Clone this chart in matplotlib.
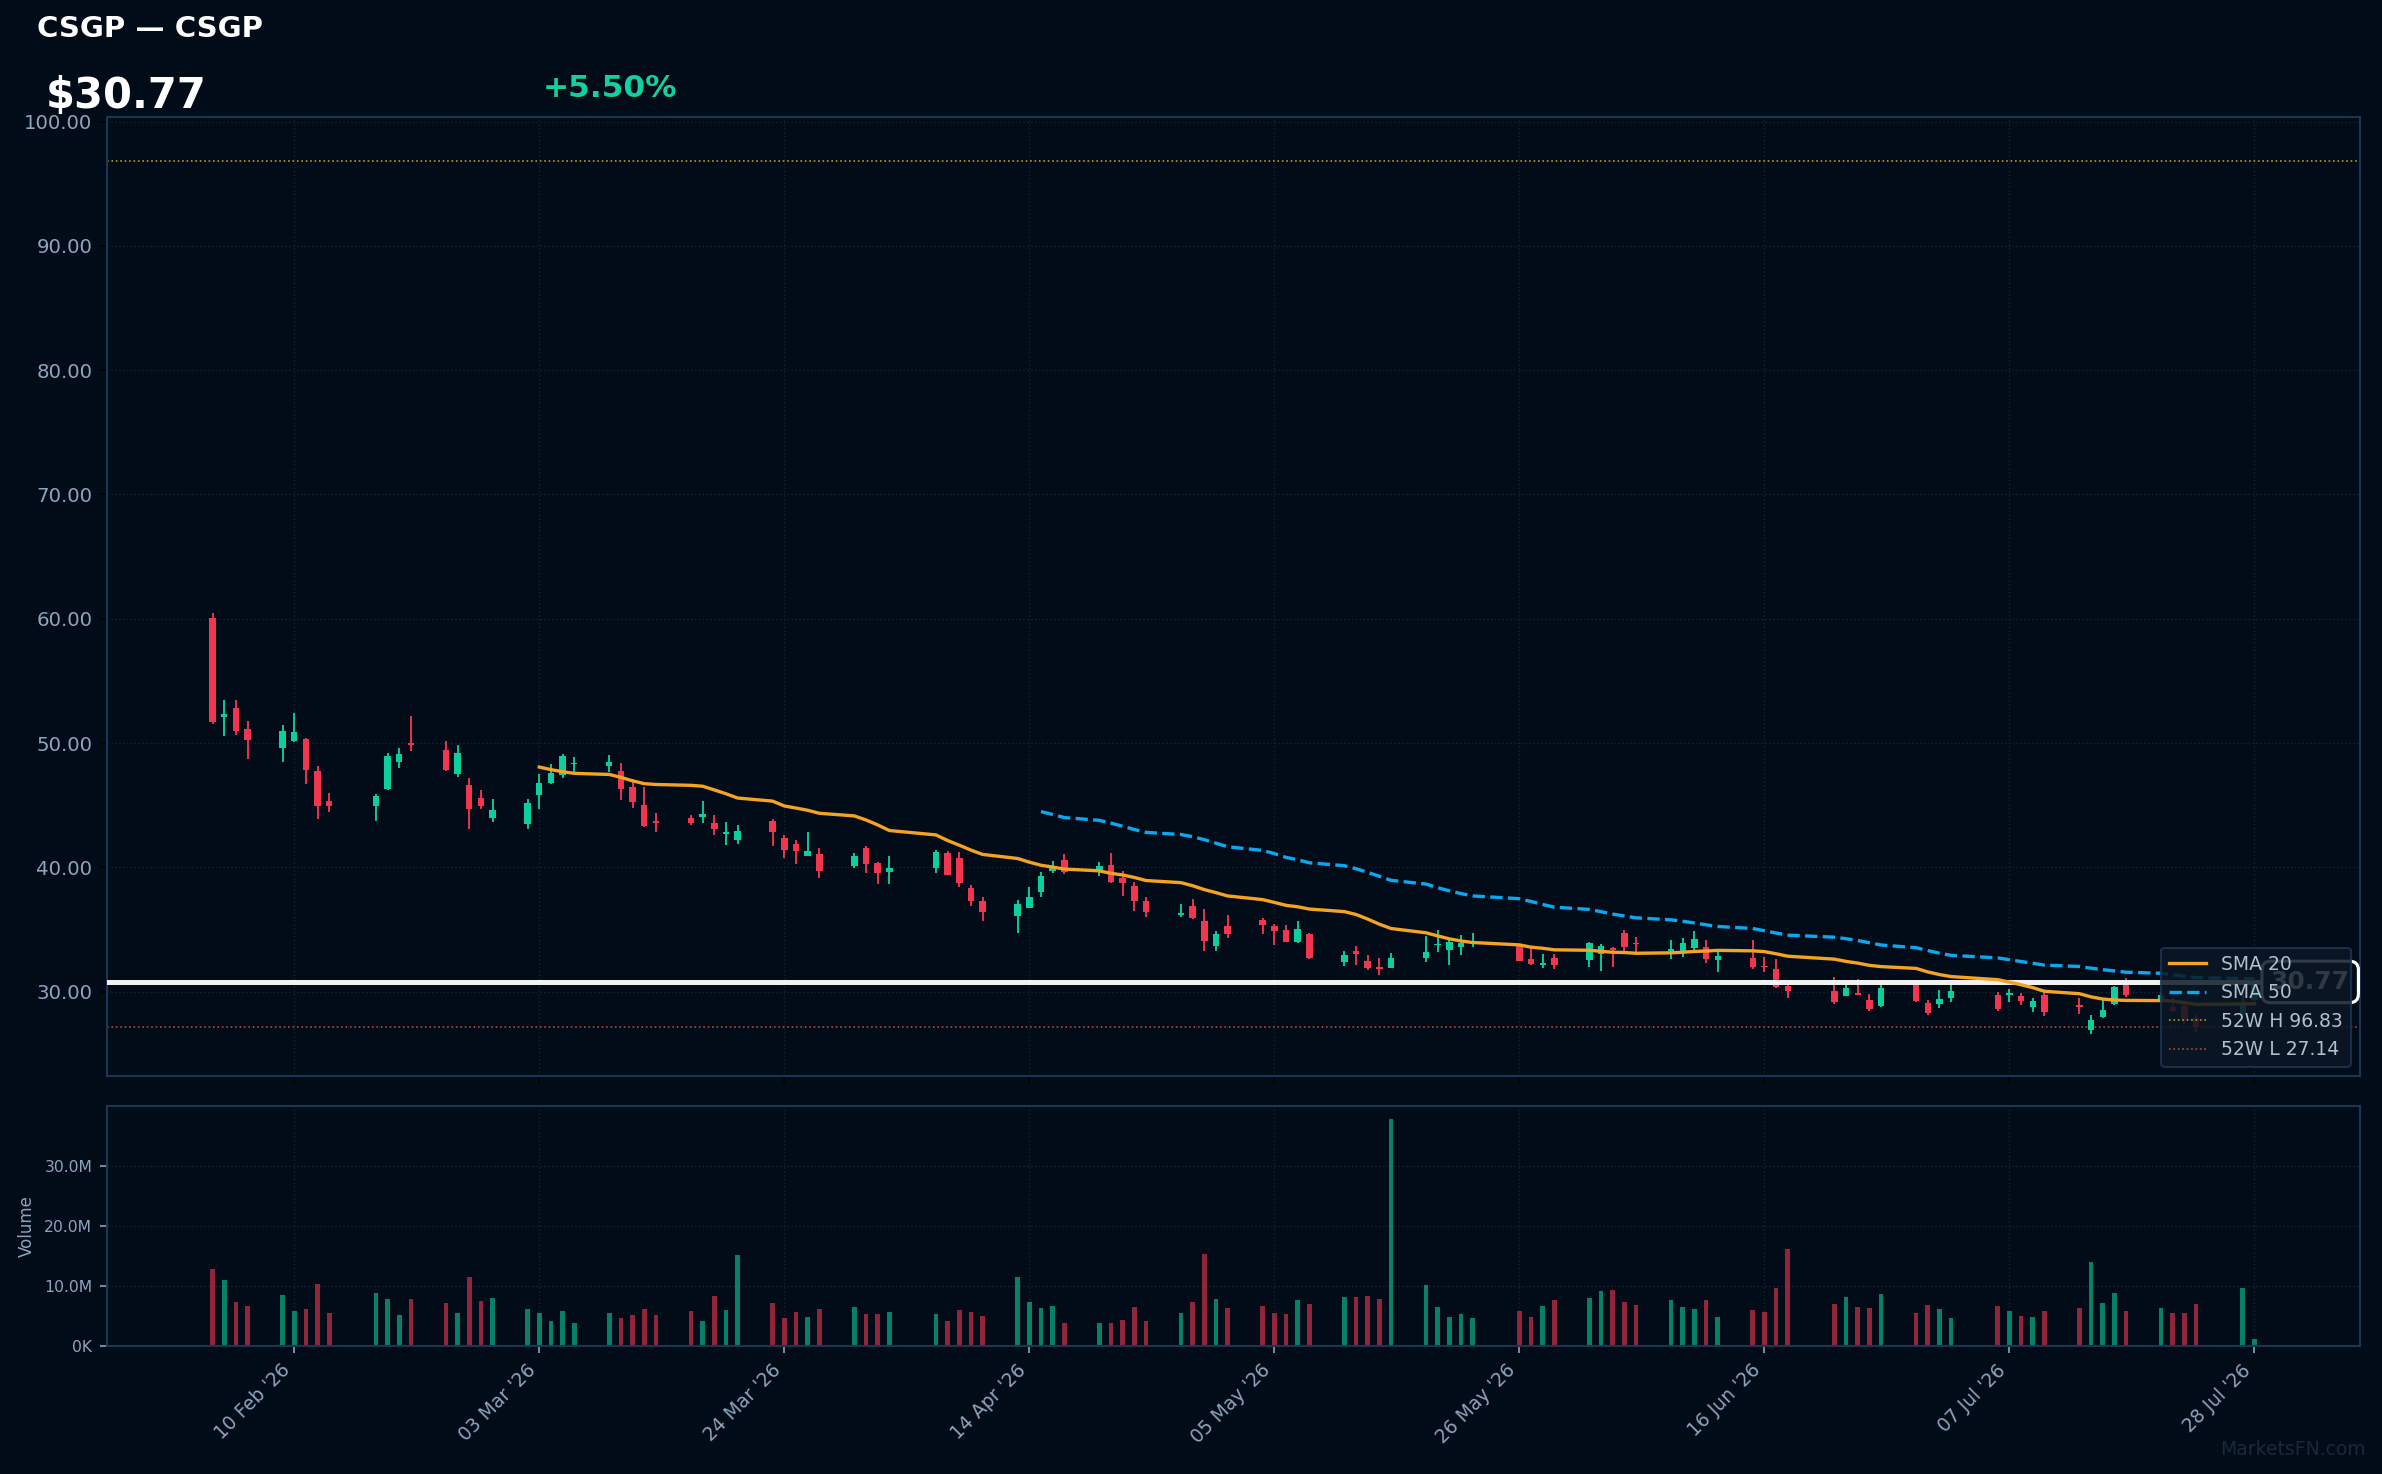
"""
plot.py
-------
CSGP daily candles with SMA 20/50, 52-week levels and volume panel.
"""

import matplotlib
matplotlib.use("Agg")
import matplotlib.pyplot as plt
import matplotlib.dates as mdates
import matplotlib.ticker as mticker
import numpy as np
import pandas as pd

TICKER = "CSGP"
LAST_PRICE = 30.77
CHANGE_PCT = 5.50
HIGH_52W = 96.83
LOW_52W = 27.14

dates = [
    "2026-02-03", "2026-02-04", "2026-02-05", "2026-02-06",
    "2026-02-09", "2026-02-10", "2026-02-11", "2026-02-12", "2026-02-13",
    "2026-02-17", "2026-02-18", "2026-02-19", "2026-02-20",
    "2026-02-23", "2026-02-24", "2026-02-25", "2026-02-26", "2026-02-27",
    "2026-03-02", "2026-03-03", "2026-03-04", "2026-03-05", "2026-03-06",
    "2026-03-09", "2026-03-10", "2026-03-11", "2026-03-12", "2026-03-13",
    "2026-03-16", "2026-03-17", "2026-03-18", "2026-03-19", "2026-03-20",
    "2026-03-23", "2026-03-24", "2026-03-25", "2026-03-26", "2026-03-27",
    "2026-03-30", "2026-03-31", "2026-04-01", "2026-04-02",
    "2026-04-06", "2026-04-07", "2026-04-08", "2026-04-09", "2026-04-10",
    "2026-04-13", "2026-04-14", "2026-04-15", "2026-04-16", "2026-04-17",
    "2026-04-20", "2026-04-21", "2026-04-22", "2026-04-23", "2026-04-24",
    "2026-04-27", "2026-04-28", "2026-04-29", "2026-04-30", "2026-05-01",
    "2026-05-04", "2026-05-05", "2026-05-06", "2026-05-07", "2026-05-08",
    "2026-05-11", "2026-05-12", "2026-05-13", "2026-05-14", "2026-05-15",
    "2026-05-18", "2026-05-19", "2026-05-20", "2026-05-21", "2026-05-22",
    "2026-05-26", "2026-05-27", "2026-05-28", "2026-05-29",
    "2026-06-01", "2026-06-02", "2026-06-03", "2026-06-04", "2026-06-05",
    "2026-06-08", "2026-06-09", "2026-06-10", "2026-06-11", "2026-06-12",
    "2026-06-15", "2026-06-16", "2026-06-17", "2026-06-18",
    "2026-06-22", "2026-06-23", "2026-06-24", "2026-06-25", "2026-06-26",
    "2026-06-29", "2026-06-30", "2026-07-01", "2026-07-02",
    "2026-07-06", "2026-07-07", "2026-07-08", "2026-07-09", "2026-07-10",
    "2026-07-13", "2026-07-14", "2026-07-15", "2026-07-16", "2026-07-17",
    "2026-07-20", "2026-07-21", "2026-07-22", "2026-07-23",
    "2026-07-27", "2026-07-28",
]

opens = [
    60.08, 52.09, 52.79, 51.10,
    49.60, 50.13, 50.29, 47.72, 45.34,
    44.91, 46.27, 48.44, 50.03,
    49.41, 47.48, 46.60, 45.55, 43.94,
    43.46, 45.79, 46.76, 47.40, 48.28,
    48.12, 47.72, 46.43, 44.99, 43.70,
    43.94, 44.02, 43.57, 42.71, 42.23,
    43.73, 42.37, 41.88, 40.92, 41.08,
    40.11, 41.56, 40.35, 39.63,
    39.95, 41.16, 40.76, 38.34, 37.30,
    36.09, 36.73, 38.02, 39.71, 40.60,
    39.79, 40.19, 39.15, 38.50, 37.30,
    36.17, 36.89, 35.69, 33.68, 35.29,
    35.77, 35.28, 34.96, 34.00, 34.64,
    32.39, 33.27, 32.47, 32.00, 31.90,
    32.71, 33.75, 33.35, 33.59, 33.83,
    33.67, 32.63, 32.17, 32.71,
    32.55, 33.03, 33.51, 34.72, 33.92,
    33.27, 33.11, 33.51, 33.59, 32.55,
    32.71, 32.04, 31.83, 30.46,
    30.06, 29.66, 29.87, 29.33, 28.85,
    30.62, 29.09, 29.01, 29.50,
    29.74, 29.74, 29.66, 28.77, 29.74,
    28.93, 26.92, 27.97, 29.01, 30.54,
    29.34, 28.74, 28.85, 27.86,
    28.26, 29.30,
]

highs = [
    60.43, 53.43, 53.43, 51.74,
    51.42, 52.39, 50.38, 48.12, 45.95,
    45.87, 49.17, 49.57, 52.14,
    50.13, 49.81, 47.16, 46.19, 45.47,
    45.47, 47.48, 48.28, 49.09, 48.85,
    49.01, 48.36, 47.08, 46.43, 44.34,
    44.18, 45.31, 44.20, 43.65, 43.41,
    43.89, 42.61, 42.20, 42.85, 41.56,
    41.16, 41.72, 40.43, 40.92,
    41.40, 41.32, 41.24, 38.58, 37.62,
    37.38, 38.42, 39.63, 40.51, 41.08,
    40.43, 41.16, 39.71, 38.83, 37.62,
    37.06, 37.46, 36.65, 34.88, 36.17,
    35.93, 35.44, 35.36, 35.69, 34.72,
    33.27, 33.67, 32.95, 32.71, 33.11,
    34.48, 34.96, 34.16, 34.56, 34.72,
    33.83, 33.51, 33.03, 33.03,
    34.00, 33.83, 33.59, 34.96, 34.40,
    34.16, 34.32, 34.88, 34.16, 33.27,
    34.16, 32.79, 32.63, 30.78,
    31.19, 30.62, 31.02, 29.82, 30.62,
    30.78, 29.33, 30.14, 30.54,
    29.98, 30.22, 29.90, 29.50, 29.98,
    29.50, 28.13, 29.33, 30.46, 31.10,
    29.90, 29.47, 29.07, 28.07,
    30.00, 30.90,
]

lows = [
    51.53, 50.56, 50.64, 48.69,
    48.44, 50.10, 46.68, 43.86, 44.42,
    43.70, 46.20, 47.96, 49.33,
    47.72, 47.24, 43.06, 44.66, 43.62,
    43.06, 44.66, 46.70, 47.16, 47.64,
    47.64, 45.39, 44.74, 43.22, 42.82,
    43.38, 43.54, 42.59, 41.80, 41.88,
    41.72, 40.76, 40.27, 40.90, 39.15,
    39.95, 39.55, 38.67, 38.67,
    39.55, 39.39, 38.42, 36.90, 35.69,
    34.72, 36.70, 37.62, 39.55, 39.47,
    39.31, 38.75, 37.70, 36.49, 36.01,
    36.01, 35.85, 33.28, 33.28, 34.32,
    34.64, 33.76, 34.00, 33.92, 32.63,
    32.07, 32.15, 31.74, 31.34, 31.88,
    32.39, 33.19, 32.15, 32.95, 33.59,
    32.45, 32.15, 31.90, 31.82,
    31.98, 31.66, 31.98, 33.27, 33.19,
    32.63, 32.79, 33.35, 32.31, 31.58,
    31.82, 31.59, 30.30, 29.50,
    29.01, 29.64, 29.72, 28.45, 28.77,
    29.17, 28.13, 28.69, 29.17,
    28.45, 29.17, 28.93, 28.37, 28.05,
    28.21, 26.60, 27.89, 28.93, 29.58,
    29.20, 28.32, 27.40, 26.71,
    28.10, 29.20,
]

closes = [
    51.69, 52.31, 50.97, 50.24,
    50.94, 50.86, 47.80, 44.91, 44.91,
    45.71, 48.93, 49.09, 49.84,
    47.80, 49.17, 44.66, 44.91, 44.58,
    45.15, 46.76, 47.56, 48.93, 48.36,
    48.44, 46.27, 45.23, 43.30, 43.59,
    43.54, 44.26, 43.07, 42.85, 42.93,
    42.85, 41.40, 41.32, 41.32, 39.71,
    40.92, 40.27, 39.55, 39.95,
    41.24, 39.39, 38.75, 37.30, 36.41,
    37.06, 37.62, 39.31, 40.11, 39.63,
    40.11, 38.83, 38.75, 37.30, 36.41,
    36.28, 35.93, 34.08, 34.64, 34.64,
    35.36, 34.88, 34.00, 35.04, 32.71,
    32.95, 33.03, 31.90, 31.85, 32.71,
    33.19, 33.83, 34.00, 33.92, 33.92,
    32.47, 32.23, 32.31, 32.15,
    33.92, 33.67, 33.35, 33.59, 33.83,
    33.43, 33.92, 34.24, 32.63, 32.87,
    31.98, 31.94, 30.38, 30.06,
    29.17, 30.30, 29.74, 28.61, 30.30,
    29.25, 28.29, 29.42, 30.06,
    28.61, 29.87, 29.25, 29.25, 28.37,
    28.75, 27.73, 28.53, 30.38, 29.74,
    29.74, 28.40, 27.72, 27.11,
    29.17, 30.77,
]

# volume in millions of shares
volumes_m = [
    12.9, 11.05, 7.4, 6.7,
    8.56, 5.9, 6.24, 10.4, 5.58,
    8.9, 7.9, 5.25, 7.9,
    7.24, 5.58, 11.55, 7.57, 8.07,
    6.24, 5.58, 4.25, 5.91, 3.92,
    5.58, 4.59, 5.25, 6.24, 5.25,
    5.91, 4.25, 8.4, 6.08, 15.2,
    7.24, 4.59, 5.75, 4.92, 6.24,
    6.57, 5.41, 5.41, 5.75,
    5.41, 4.25, 6.08, 5.75, 5.08,
    11.55, 7.4, 6.4, 6.74, 3.92,
    3.76, 3.92, 4.42, 6.57, 4.25,
    5.58, 7.4, 15.36, 7.9, 6.4,
    6.74, 5.58, 5.41, 7.73, 7.07,
    8.23, 8.23, 8.4, 7.9, 37.85,
    10.2, 6.57, 4.92, 5.41, 4.59,
    5.91, 4.92, 6.74, 7.73,
    8.07, 9.23, 9.4, 7.4, 6.9,
    7.73, 6.57, 6.24, 7.73, 4.92,
    6.08, 5.75, 9.72, 16.2,
    7.07, 8.23, 6.57, 6.4, 8.73,
    5.58, 6.9, 6.24, 4.75,
    6.74, 5.91, 5.08, 4.92, 5.91,
    6.4, 14.03, 7.24, 8.9, 5.91,
    6.4, 5.58, 5.58, 7.07,
    9.72, 1.1,
]

BG = "#020c18"
UP = "#0ccf9c"
DOWN = "#f23650"
SPINE = "#1c3553"
GRID = "#16222f"
TEXT = "#8ea3bc"
ORANGE = "#f5a321"
BLUE = "#0aa8ee"


def vol_fmt(v, _pos):
    if v == 0:
        return "0K"
    return f"{v / 1e6:.1f}M"


def main():
    d = pd.to_datetime(dates)
    o = np.array(opens)
    h = np.array(highs)
    lo = np.array(lows)
    c = np.array(closes)
    vol = np.array(volumes_m) * 1e6

    up = c >= o
    colors = np.where(up, UP, DOWN)
    sma20 = pd.Series(c).rolling(20).mean()
    sma50 = pd.Series(c).rolling(50).mean()

    fig = plt.figure(figsize=(15.88, 9.827), dpi=150, facecolor=BG)
    ax = fig.add_axes([0.0449, 0.27, 0.9459, 0.6504])
    axv = fig.add_axes([0.0449, 0.0868, 0.9459, 0.1629], sharex=ax)

    for a in (ax, axv):
        a.set_facecolor(BG)
        for s in a.spines.values():
            s.set_color(SPINE)
            s.set_linewidth(1.0)
        a.grid(True, color=GRID, linestyle=":", linewidth=0.7)
        a.set_axisbelow(True)

    # candles
    ax.vlines(d, lo, h, color=colors, linewidth=0.9, zorder=2)
    body = np.maximum(np.abs(c - o), 0.08)
    ax.bar(d, body, bottom=np.minimum(o, c), width=0.55, color=colors,
           linewidth=0, zorder=3)

    ax.axhline(LAST_PRICE, color="white", linewidth=2.4, alpha=0.95, zorder=4)
    ax.plot(d, sma20, color=ORANGE, linewidth=1.6, label="SMA 20", zorder=5)
    ax.plot(d, sma50, color=BLUE, linewidth=1.6, linestyle="--",
            label="SMA 50", zorder=5)
    ax.axhline(HIGH_52W, color="#b39a26", linewidth=0.8, linestyle=":",
               label=f"52W H {HIGH_52W:.2f}", zorder=1)
    ax.axhline(LOW_52W, color="#b5482c", linewidth=0.8, linestyle=":",
               label=f"52W L {LOW_52W:.2f}", zorder=1)

    # last price tag, partly under the legend like the original
    ax.annotate(f"{LAST_PRICE:.2f}", xy=(1, LAST_PRICE),
                xycoords=("axes fraction", "data"), xytext=(-5, 0),
                textcoords="offset points", ha="right", va="center",
                color="white", fontsize=12, fontweight="bold",
                bbox=dict(boxstyle="round,pad=0.35", fc=BG, ec="white", lw=1.5),
                zorder=6, annotation_clip=False)

    leg = ax.legend(loc="lower right", fontsize=9, facecolor="#0b1724",
                    edgecolor=SPINE, framealpha=0.85, labelcolor="#b0c0d0")
    leg.set_zorder(10)

    ax.set_ylim(23.2, 100.35)
    ax.yaxis.set_major_locator(mticker.MultipleLocator(10))
    ax.yaxis.set_major_formatter(mticker.FormatStrFormatter("%.2f"))
    ax.tick_params(axis="both", color="black", labelcolor=TEXT, labelsize=9.5)
    ax.tick_params(axis="x", labelbottom=False)

    # volume
    axv.bar(d, vol, width=0.4, color=colors, alpha=0.6, linewidth=0)
    axv.set_ylim(0, 40e6)
    axv.set_yticks([0, 10e6, 20e6, 30e6])
    axv.yaxis.set_major_formatter(mticker.FuncFormatter(vol_fmt))
    axv.set_ylabel("Volume", color=TEXT, fontsize=8)
    axv.tick_params(axis="y", colors=TEXT, labelsize=7.5)
    axv.tick_params(axis="x", colors=TEXT, labelsize=9)

    ticks = pd.date_range("2026-02-10", "2026-07-28", freq="21D")
    axv.set_xticks(ticks)
    axv.xaxis.set_major_formatter(mdates.DateFormatter("%d %b '%y"))
    plt.setp(axv.get_xticklabels(), rotation=45, ha="right")
    ax.margins(x=0.05)

    # header
    fig.text(0.0155, 0.975, f"{TICKER} \u2014 {TICKER}", color="white",
             fontsize=14, fontweight="bold", va="baseline")
    fig.text(0.0190, 0.9267, f"${LAST_PRICE:.2f}", color="white",
             fontsize=20, fontweight="bold", va="baseline")
    fig.text(0.2280, 0.934, f"+{CHANGE_PCT:.2f}%", color="#12d1a0",
             fontsize=15, fontweight="bold", va="baseline")
    fig.text(0.993, 0.013, "MarketsFN.com", color="#1a2838", fontsize=9,
             ha="right", va="baseline")

    fig.savefig("out.png", dpi=150, facecolor=BG)


if __name__ == "__main__":
    main()
